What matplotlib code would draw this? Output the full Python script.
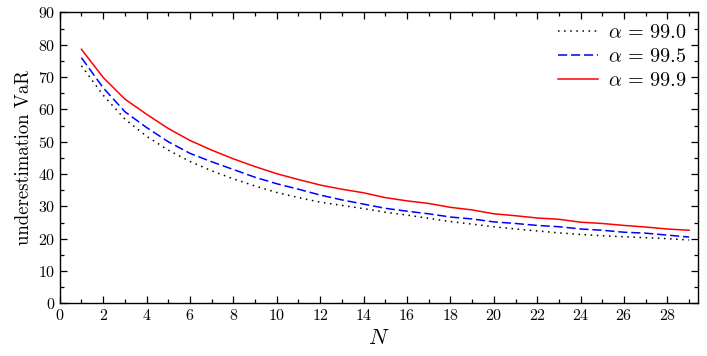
import matplotlib
matplotlib.use("Agg")
import matplotlib.pyplot as plt
from matplotlib.ticker import MultipleLocator

plt.rcParams['font.family'] = 'cmr10'
plt.rcParams['mathtext.fontset'] = 'cm'
plt.rcParams['axes.formatter.use_mathtext'] = True

N = list(range(1, 30))
var_990 = [73.5, 64.4, 57.0, 51.7, 47.4, 43.9, 41.0, 38.5, 36.3, 34.3, 32.7, 31.3, 30.3, 29.3,
           28.2, 27.3, 26.3, 25.3, 24.5, 23.7, 23.0, 22.4, 21.8, 21.3, 20.9, 20.6, 20.3, 20.0, 19.6]
var_995 = [76.0, 66.7, 59.3, 54.4, 50.0, 46.4, 43.8, 41.4, 39.0, 37.0, 35.3, 33.5, 32.0, 30.7,
           29.4, 28.5, 27.7, 26.7, 26.1, 25.2, 24.7, 24.1, 23.7, 23.0, 22.6, 22.0, 21.7, 21.1, 20.5]
var_999 = [78.6, 69.9, 63.2, 58.5, 54.1, 50.4, 47.4, 44.7, 42.3, 40.1, 38.3, 36.6, 35.3, 34.2,
           32.7, 31.7, 30.9, 29.7, 28.9, 27.7, 27.1, 26.4, 26.0, 25.1, 24.7, 24.1, 23.6, 23.0, 22.6]
labels = [r'$\alpha \,=\, 99.0$', r'$\alpha \,=\, 99.5$', r'$\alpha \,=\, 99.9$']

fig = plt.figure(figsize=(7.07, 3.56), dpi=100)
ax = fig.add_axes([0.0845, 0.148, 0.9025, 0.817])

ax.plot(N, var_990, color='black', linestyle=(0, (1, 3)), linewidth=1.1, label=labels[0])
ax.plot(N, var_995, color='blue', linestyle=(0, (6, 2.5)), linewidth=1.1, label=labels[1])
ax.plot(N, var_999, color='red', linestyle='-', linewidth=1.1, label=labels[2])

ax.set_xlim(0, 29.4)
ax.set_ylim(0, 90)
ax.xaxis.set_major_locator(MultipleLocator(2))
ax.xaxis.set_minor_locator(MultipleLocator(1))
ax.yaxis.set_major_locator(MultipleLocator(10))
ax.yaxis.set_minor_locator(MultipleLocator(5))
ax.tick_params(which='both', direction='in', top=True, right=True, labelsize=11.5, width=0.9)
ax.tick_params(which='major', length=5)
ax.tick_params(which='minor', length=3)
for s in ax.spines.values():
    s.set_linewidth(1.0)

ax.set_xlabel(r'$N$', fontsize=16, labelpad=4)
ax.set_ylabel('underestimation VaR', fontsize=13.5, labelpad=3)

ax.legend(loc='upper right', frameon=False, fontsize=14.5, handlelength=2.0,
          borderaxespad=0.15, labelspacing=0.3, handletextpad=0.5)

fig.savefig('out.png', dpi=100)
